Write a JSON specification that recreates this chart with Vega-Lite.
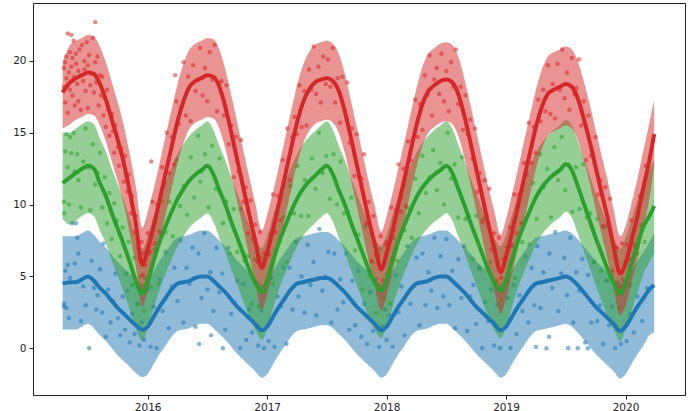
{
"$schema": "https://vega.github.io/schema/vega-lite/v6.json",
"width": 652, "height": 392,
"autosize": {"type": "none"},
"padding": {"left": 33, "top": 3, "right": 8, "bottom": 16},
"background": "white",
"config": {"view": {"stroke": "#222", "strokeWidth": 1}, "axis": {"domain": false, "grid": false, "ticks": true, "tickSize": 4, "tickColor": "#222", "labelFont": "DejaVu Sans", "labelFontSize": 10.5, "labelColor": "#222", "labelPadding": 3}},
"datasets": {
"lines": [
{"t":2015.288,"r":17.8,"rl":15.3,"rh":19.9,"g":11.5,"gl":9.0,"gh":15.0,"b":4.5,"bl":1.3,"bh":7.8},
{"t":2015.35,"r":18.5,"rl":15.6,"rh":21.1,"g":11.9,"gl":8.6,"gh":15.0,"b":4.6,"bl":1.3,"bh":7.8},
{"t":2015.40,"r":18.8,"rl":15.9,"rh":21.4,"g":12.2,"gl":8.9,"gh":15.3,"b":4.6,"bl":1.3,"bh":7.8},
{"t":2015.45,"r":19.0,"rl":16.1,"rh":21.6,"g":12.5,"gl":9.2,"gh":15.6,"b":4.8,"bl":1.5,"bh":8.0},
{"t":2015.50,"r":19.2,"rl":16.3,"rh":21.8,"g":12.7,"gl":9.4,"gh":15.8,"b":5.0,"bl":1.7,"bh":8.2},
{"t":2015.55,"r":19.1,"rl":16.2,"rh":21.7,"g":12.5,"gl":9.2,"gh":15.6,"b":4.7,"bl":1.4,"bh":7.9},
{"t":2015.60,"r":18.4,"rl":15.5,"rh":21.0,"g":11.5,"gl":8.2,"gh":14.6,"b":4.2,"bl":0.9,"bh":7.4},
{"t":2015.65,"r":17.3,"rl":14.4,"rh":19.9,"g":10.6,"gl":7.3,"gh":13.7,"b":3.8,"bl":0.5,"bh":7.0},
{"t":2015.70,"r":15.9,"rl":13.0,"rh":18.5,"g":9.4,"gl":6.1,"gh":12.5,"b":3.3,"bl":0.0,"bh":6.5},
{"t":2015.75,"r":14.5,"rl":11.6,"rh":17.1,"g":8.3,"gl":5.0,"gh":11.4,"b":2.8,"bl":-0.5,"bh":6.0},
{"t":2015.80,"r":12.9,"rl":10.0,"rh":15.5,"g":7.2,"gl":3.9,"gh":10.3,"b":2.4,"bl":-0.9,"bh":5.6},
{"t":2015.85,"r":10.9,"rl":8.0,"rh":13.5,"g":6.0,"gl":2.7,"gh":9.1,"b":2.0,"bl":-1.3,"bh":5.2},
{"t":2015.90,"r":8.7,"rl":5.8,"rh":11.3,"g":4.7,"gl":1.4,"gh":7.8,"b":1.6,"bl":-1.7,"bh":4.8},
{"t":2015.955,"r":5.8,"rl":2.9,"rh":8.4,"g":3.8,"gl":0.5,"gh":6.9,"b":1.3,"bl":-2.0,"bh":4.5},
{"t":2016.00,"r":6.9,"rl":4.0,"rh":9.5,"g":4.7,"gl":1.4,"gh":7.8,"b":1.5,"bl":-1.8,"bh":4.7},
{"t":2016.05,"r":8.5,"rl":5.6,"rh":11.1,"g":6.1,"gl":2.8,"gh":9.2,"b":2.2,"bl":-1.1,"bh":5.4},
{"t":2016.10,"r":10.3,"rl":7.4,"rh":12.9,"g":7.4,"gl":4.1,"gh":10.5,"b":2.9,"bl":-0.4,"bh":6.1},
{"t":2016.15,"r":12.2,"rl":9.3,"rh":14.8,"g":8.5,"gl":5.2,"gh":11.6,"b":3.5,"bl":0.2,"bh":6.7},
{"t":2016.20,"r":14.0,"rl":11.1,"rh":16.6,"g":9.5,"gl":6.2,"gh":12.6,"b":4.1,"bl":0.8,"bh":7.3},
{"t":2016.25,"r":15.8,"rl":12.9,"rh":18.4,"g":10.4,"gl":7.1,"gh":13.5,"b":4.5,"bl":1.2,"bh":7.7},
{"t":2016.30,"r":17.2,"rl":14.3,"rh":19.8,"g":11.1,"gl":7.8,"gh":14.2,"b":4.6,"bl":1.3,"bh":7.8},
{"t":2016.35,"r":18.2,"rl":15.3,"rh":20.8,"g":11.7,"gl":8.4,"gh":14.8,"b":4.7,"bl":1.4,"bh":7.9},
{"t":2016.40,"r":18.6,"rl":15.7,"rh":21.2,"g":12.1,"gl":8.8,"gh":15.2,"b":4.9,"bl":1.6,"bh":8.1},
{"t":2016.45,"r":18.8,"rl":15.9,"rh":21.4,"g":12.4,"gl":9.1,"gh":15.5,"b":5.0,"bl":1.7,"bh":8.2},
{"t":2016.50,"r":19.0,"rl":16.1,"rh":21.6,"g":12.7,"gl":9.4,"gh":15.8,"b":5.0,"bl":1.7,"bh":8.2},
{"t":2016.55,"r":18.9,"rl":16.0,"rh":21.5,"g":12.1,"gl":8.8,"gh":15.2,"b":4.7,"bl":1.4,"bh":7.9},
{"t":2016.60,"r":18.2,"rl":15.3,"rh":20.8,"g":11.0,"gl":7.7,"gh":14.1,"b":4.3,"bl":1.0,"bh":7.5},
{"t":2016.65,"r":16.8,"rl":13.9,"rh":19.4,"g":10.0,"gl":6.7,"gh":13.1,"b":3.9,"bl":0.6,"bh":7.1},
{"t":2016.70,"r":15.0,"rl":12.1,"rh":17.6,"g":8.8,"gl":5.5,"gh":11.9,"b":3.4,"bl":0.1,"bh":6.6},
{"t":2016.75,"r":13.1,"rl":10.2,"rh":15.7,"g":7.7,"gl":4.4,"gh":10.8,"b":2.9,"bl":-0.4,"bh":6.1},
{"t":2016.80,"r":11.2,"rl":8.3,"rh":13.8,"g":6.6,"gl":3.3,"gh":9.7,"b":2.5,"bl":-0.8,"bh":5.7},
{"t":2016.85,"r":9.3,"rl":6.4,"rh":11.9,"g":5.5,"gl":2.2,"gh":8.6,"b":2.1,"bl":-1.2,"bh":5.3},
{"t":2016.90,"r":7.5,"rl":4.6,"rh":10.1,"g":4.6,"gl":1.3,"gh":7.7,"b":1.7,"bl":-1.6,"bh":4.9},
{"t":2016.955,"r":5.6,"rl":2.7,"rh":8.2,"g":3.9,"gl":0.6,"gh":7.0,"b":1.25,"bl":-2.05,"bh":4.45},
{"t":2017.00,"r":6.7,"rl":3.8,"rh":9.3,"g":4.7,"gl":1.4,"gh":7.8,"b":1.5,"bl":-1.8,"bh":4.7},
{"t":2017.05,"r":8.3,"rl":5.4,"rh":10.9,"g":6.1,"gl":2.8,"gh":9.2,"b":2.2,"bl":-1.1,"bh":5.4},
{"t":2017.10,"r":10.1,"rl":7.2,"rh":12.7,"g":7.4,"gl":4.1,"gh":10.5,"b":2.9,"bl":-0.4,"bh":6.1},
{"t":2017.15,"r":12.0,"rl":9.1,"rh":14.6,"g":8.5,"gl":5.2,"gh":11.6,"b":3.5,"bl":0.2,"bh":6.7},
{"t":2017.20,"r":13.9,"rl":11.0,"rh":16.5,"g":9.5,"gl":6.2,"gh":12.6,"b":4.1,"bl":0.8,"bh":7.3},
{"t":2017.25,"r":15.7,"rl":12.8,"rh":18.3,"g":10.4,"gl":7.1,"gh":13.5,"b":4.5,"bl":1.2,"bh":7.7},
{"t":2017.30,"r":17.1,"rl":14.2,"rh":19.7,"g":11.1,"gl":7.8,"gh":14.2,"b":4.6,"bl":1.3,"bh":7.8},
{"t":2017.35,"r":18.0,"rl":15.1,"rh":20.6,"g":11.6,"gl":8.3,"gh":14.7,"b":4.7,"bl":1.4,"bh":7.9},
{"t":2017.40,"r":18.5,"rl":15.6,"rh":21.1,"g":12.0,"gl":8.7,"gh":15.1,"b":4.8,"bl":1.5,"bh":8.0},
{"t":2017.45,"r":18.7,"rl":15.8,"rh":21.3,"g":12.4,"gl":9.1,"gh":15.5,"b":4.9,"bl":1.6,"bh":8.1},
{"t":2017.50,"r":18.8,"rl":15.9,"rh":21.4,"g":12.7,"gl":9.4,"gh":15.8,"b":4.9,"bl":1.6,"bh":8.1},
{"t":2017.55,"r":18.6,"rl":15.7,"rh":21.2,"g":12.1,"gl":8.8,"gh":15.2,"b":4.7,"bl":1.4,"bh":7.9},
{"t":2017.60,"r":17.9,"rl":15.0,"rh":20.5,"g":11.0,"gl":7.7,"gh":14.1,"b":4.3,"bl":1.0,"bh":7.5},
{"t":2017.65,"r":16.5,"rl":13.6,"rh":19.1,"g":10.0,"gl":6.7,"gh":13.1,"b":3.9,"bl":0.6,"bh":7.1},
{"t":2017.70,"r":14.7,"rl":11.8,"rh":17.3,"g":8.8,"gl":5.5,"gh":11.9,"b":3.4,"bl":0.1,"bh":6.6},
{"t":2017.75,"r":12.8,"rl":9.9,"rh":15.4,"g":7.7,"gl":4.4,"gh":10.8,"b":2.9,"bl":-0.4,"bh":6.1},
{"t":2017.80,"r":10.9,"rl":8.0,"rh":13.5,"g":6.6,"gl":3.3,"gh":9.7,"b":2.5,"bl":-0.8,"bh":5.7},
{"t":2017.85,"r":9.0,"rl":6.1,"rh":11.6,"g":5.5,"gl":2.2,"gh":8.6,"b":2.1,"bl":-1.2,"bh":5.3},
{"t":2017.90,"r":7.3,"rl":4.4,"rh":9.9,"g":4.6,"gl":1.3,"gh":7.7,"b":1.7,"bl":-1.6,"bh":4.9},
{"t":2017.955,"r":5.5,"rl":2.6,"rh":8.1,"g":4.0,"gl":0.7,"gh":7.1,"b":1.25,"bl":-2.05,"bh":4.45},
{"t":2018.00,"r":6.6,"rl":3.7,"rh":9.2,"g":4.8,"gl":1.5,"gh":7.9,"b":1.5,"bl":-1.8,"bh":4.7},
{"t":2018.05,"r":8.2,"rl":5.3,"rh":10.8,"g":6.2,"gl":2.9,"gh":9.3,"b":2.2,"bl":-1.1,"bh":5.4},
{"t":2018.10,"r":10.0,"rl":7.1,"rh":12.6,"g":7.5,"gl":4.2,"gh":10.6,"b":2.9,"bl":-0.4,"bh":6.1},
{"t":2018.15,"r":11.8,"rl":8.9,"rh":14.4,"g":8.6,"gl":5.3,"gh":11.7,"b":3.5,"bl":0.2,"bh":6.7},
{"t":2018.20,"r":13.7,"rl":10.8,"rh":16.3,"g":9.6,"gl":6.3,"gh":12.7,"b":4.1,"bl":0.8,"bh":7.3},
{"t":2018.25,"r":15.5,"rl":12.6,"rh":18.1,"g":10.5,"gl":7.2,"gh":13.6,"b":4.5,"bl":1.2,"bh":7.7},
{"t":2018.30,"r":17.0,"rl":14.1,"rh":19.6,"g":11.2,"gl":7.9,"gh":14.3,"b":4.6,"bl":1.3,"bh":7.8},
{"t":2018.35,"r":17.9,"rl":15.0,"rh":20.5,"g":11.7,"gl":8.4,"gh":14.8,"b":4.7,"bl":1.4,"bh":7.9},
{"t":2018.40,"r":18.3,"rl":15.4,"rh":20.9,"g":12.1,"gl":8.8,"gh":15.2,"b":4.9,"bl":1.6,"bh":8.1},
{"t":2018.45,"r":18.6,"rl":15.7,"rh":21.2,"g":12.4,"gl":9.1,"gh":15.5,"b":5.0,"bl":1.7,"bh":8.2},
{"t":2018.50,"r":18.7,"rl":15.8,"rh":21.3,"g":12.7,"gl":9.4,"gh":15.8,"b":5.0,"bl":1.7,"bh":8.2},
{"t":2018.55,"r":18.5,"rl":15.6,"rh":21.1,"g":12.2,"gl":8.9,"gh":15.3,"b":4.7,"bl":1.4,"bh":7.9},
{"t":2018.60,"r":17.7,"rl":14.8,"rh":20.3,"g":11.1,"gl":7.8,"gh":14.2,"b":4.3,"bl":1.0,"bh":7.5},
{"t":2018.65,"r":16.2,"rl":13.3,"rh":18.8,"g":10.0,"gl":6.7,"gh":13.1,"b":3.9,"bl":0.6,"bh":7.1},
{"t":2018.70,"r":14.4,"rl":11.5,"rh":17.0,"g":8.8,"gl":5.5,"gh":11.9,"b":3.4,"bl":0.1,"bh":6.6},
{"t":2018.75,"r":12.5,"rl":9.6,"rh":15.1,"g":7.7,"gl":4.4,"gh":10.8,"b":2.9,"bl":-0.4,"bh":6.1},
{"t":2018.80,"r":10.6,"rl":7.7,"rh":13.2,"g":6.6,"gl":3.3,"gh":9.7,"b":2.5,"bl":-0.8,"bh":5.7},
{"t":2018.85,"r":8.7,"rl":5.8,"rh":11.3,"g":5.5,"gl":2.2,"gh":8.6,"b":2.1,"bl":-1.2,"bh":5.3},
{"t":2018.90,"r":7.0,"rl":4.1,"rh":9.6,"g":4.6,"gl":1.3,"gh":7.7,"b":1.7,"bl":-1.6,"bh":4.9},
{"t":2018.955,"r":5.3,"rl":2.4,"rh":7.9,"g":4.0,"gl":0.7,"gh":7.1,"b":1.25,"bl":-2.05,"bh":4.45},
{"t":2019.00,"r":6.4,"rl":3.5,"rh":9.0,"g":4.8,"gl":1.5,"gh":7.9,"b":1.5,"bl":-1.8,"bh":4.7},
{"t":2019.05,"r":8.1,"rl":5.2,"rh":10.7,"g":6.2,"gl":2.9,"gh":9.3,"b":2.2,"bl":-1.1,"bh":5.4},
{"t":2019.10,"r":9.9,"rl":7.0,"rh":12.5,"g":7.5,"gl":4.2,"gh":10.6,"b":2.9,"bl":-0.4,"bh":6.1},
{"t":2019.15,"r":11.8,"rl":8.9,"rh":14.4,"g":8.6,"gl":5.3,"gh":11.7,"b":3.5,"bl":0.2,"bh":6.7},
{"t":2019.20,"r":13.6,"rl":10.7,"rh":16.2,"g":9.6,"gl":6.3,"gh":12.7,"b":4.1,"bl":0.8,"bh":7.3},
{"t":2019.25,"r":15.4,"rl":12.5,"rh":18.0,"g":10.5,"gl":7.2,"gh":13.6,"b":4.5,"bl":1.2,"bh":7.7},
{"t":2019.30,"r":16.8,"rl":13.9,"rh":19.4,"g":11.2,"gl":7.9,"gh":14.3,"b":4.6,"bl":1.3,"bh":7.8},
{"t":2019.35,"r":17.7,"rl":14.8,"rh":20.3,"g":11.7,"gl":8.4,"gh":14.8,"b":4.7,"bl":1.4,"bh":7.9},
{"t":2019.40,"r":18.0,"rl":15.1,"rh":20.6,"g":12.1,"gl":8.8,"gh":15.2,"b":4.8,"bl":1.5,"bh":8.0},
{"t":2019.45,"r":18.2,"rl":15.3,"rh":20.8,"g":12.4,"gl":9.1,"gh":15.5,"b":4.9,"bl":1.6,"bh":8.1},
{"t":2019.50,"r":18.4,"rl":15.5,"rh":21.0,"g":12.8,"gl":9.5,"gh":15.9,"b":5.0,"bl":1.7,"bh":8.2},
{"t":2019.55,"r":18.2,"rl":15.3,"rh":20.8,"g":12.4,"gl":9.1,"gh":15.5,"b":4.8,"bl":1.5,"bh":8.0},
{"t":2019.60,"r":17.4,"rl":14.5,"rh":20.0,"g":11.3,"gl":8.0,"gh":14.4,"b":4.4,"bl":1.1,"bh":7.6},
{"t":2019.65,"r":16.0,"rl":13.1,"rh":18.6,"g":10.1,"gl":6.8,"gh":13.2,"b":3.9,"bl":0.6,"bh":7.1},
{"t":2019.70,"r":14.4,"rl":11.5,"rh":17.0,"g":8.9,"gl":5.6,"gh":12.0,"b":3.4,"bl":0.1,"bh":6.6},
{"t":2019.75,"r":12.6,"rl":9.7,"rh":15.2,"g":7.7,"gl":4.4,"gh":10.8,"b":2.9,"bl":-0.4,"bh":6.1},
{"t":2019.80,"r":10.8,"rl":7.9,"rh":13.4,"g":6.6,"gl":3.3,"gh":9.7,"b":2.5,"bl":-0.8,"bh":5.7},
{"t":2019.85,"r":9.1,"rl":6.2,"rh":11.7,"g":5.5,"gl":2.2,"gh":8.6,"b":2.1,"bl":-1.2,"bh":5.3},
{"t":2019.90,"r":7.1,"rl":4.2,"rh":9.7,"g":4.6,"gl":1.3,"gh":7.7,"b":1.7,"bl":-1.6,"bh":4.9},
{"t":2019.955,"r":5.2,"rl":2.3,"rh":7.8,"g":3.8,"gl":0.5,"gh":6.9,"b":1.2,"bl":-2.1,"bh":4.4},
{"t":2020.00,"r":5.9,"rl":3.0,"rh":8.5,"g":4.6,"gl":1.3,"gh":7.7,"b":1.5,"bl":-1.8,"bh":4.7},
{"t":2020.05,"r":7.5,"rl":4.6,"rh":10.1,"g":5.9,"gl":2.6,"gh":9.0,"b":2.2,"bl":-1.1,"bh":5.4},
{"t":2020.10,"r":9.2,"rl":6.3,"rh":11.8,"g":7.2,"gl":3.9,"gh":10.3,"b":2.9,"bl":-0.4,"bh":6.1},
{"t":2020.15,"r":11.2,"rl":8.3,"rh":13.8,"g":8.5,"gl":5.2,"gh":11.6,"b":3.5,"bl":0.2,"bh":6.7},
{"t":2020.20,"r":13.1,"rl":10.4,"rh":15.7,"g":9.2,"gl":6.0,"gh":12.4,"b":4.1,"bl":0.9,"bh":7.4},
{"t":2020.24,"r":14.9,"rl":12.6,"rh":17.3,"g":9.9,"gl":6.6,"gh":13.1,"b":4.4,"bl":1.1,"bh":8.0}
],
"red": [
{"t":2015.30,"v":19.5},{"t":2015.30,"v":18.2},{"t":2015.31,"v":19.9},{"t":2015.31,"v":17.1},{"t":2015.32,"v":20.3},{"t":2015.32,"v":18.8},{"t":2015.33,"v":21.9},{"t":2015.33,"v":16.4},{"t":2015.34,"v":19.2},{"t":2015.35,"v":20.6},{"t":2015.35,"v":18.0},{"t":2015.36,"v":21.8},{"t":2015.36,"v":19.6},{"t":2015.37,"v":17.6},{"t":2015.37,"v":20.2},{"t":2015.38,"v":18.9},{"t":2015.38,"v":21.4},{"t":2015.39,"v":16.9},{"t":2015.40,"v":19.8},{"t":2015.40,"v":20.5},{"t":2015.41,"v":18.4},{"t":2015.42,"v":19.3},{"t":2015.42,"v":17.2},{"t":2015.43,"v":20.8},{"t":2015.44,"v":19.0},{"t":2015.44,"v":16.6},{"t":2015.45,"v":21.1},{"t":2015.46,"v":18.6},{"t":2015.47,"v":20.0},{"t":2015.47,"v":19.4},{"t":2015.48,"v":17.9},{"t":2015.49,"v":21.3},{"t":2015.50,"v":19.7},{"t":2015.50,"v":16.7},{"t":2015.51,"v":20.4},{"t":2015.52,"v":18.3},{"t":2015.53,"v":19.1},{"t":2015.54,"v":21.6},{"t":2015.55,"v":17.8},{"t":2015.56,"v":22.7},{"t":2015.56,"v":19.9},{"t":2015.57,"v":18.5},{"t":2015.58,"v":20.3},{"t":2015.59,"v":16.9},{"t":2015.60,"v":19.0},{"t":2015.61,"v":17.6},{"t":2015.62,"v":18.9},{"t":2015.63,"v":16.2},{"t":2015.64,"v":17.4},{"t":2015.65,"v":15.4},{"t":2015.66,"v":18.0},{"t":2015.67,"v":16.6},{"t":2015.68,"v":14.8},{"t":2015.70,"v":16.3},{"t":2015.71,"v":15.1},{"t":2015.72,"v":13.6},{"t":2015.73,"v":15.5},{"t":2015.75,"v":14.0},{"t":2015.76,"v":12.7},{"t":2015.78,"v":13.9},{"t":2015.80,"v":11.6},{"t":2015.81,"v":13.4},{"t":2015.83,"v":10.9},{"t":2015.84,"v":12.1},{"t":2015.86,"v":9.4},{"t":2015.87,"v":10.6},{"t":2015.89,"v":8.1},{"t":2015.90,"v":9.2},{"t":2015.92,"v":7.0},{"t":2015.93,"v":6.2},{"t":2015.95,"v":7.4},{"t":2015.96,"v":5.1},{"t":2015.97,"v":6.6},{"t":2015.98,"v":5.8},
{"t":2016.00,"v":8.0},{"t":2016.02,"v":6.7},{"t":2016.03,"v":13.0},{"t":2016.04,"v":10.2},{"t":2016.06,"v":7.3},{"t":2016.08,"v":10.0},{"t":2016.10,"v":8.1},{"t":2016.12,"v":12.6},{"t":2016.14,"v":11.5},{"t":2016.16,"v":15.0},{"t":2016.18,"v":12.2},{"t":2016.20,"v":14.7},{"t":2016.22,"v":12.8},{"t":2016.23,"v":19.0},{"t":2016.24,"v":17.2},{"t":2016.26,"v":15.6},{"t":2016.28,"v":16.8},{"t":2016.30,"v":19.9},{"t":2016.32,"v":16.2},{"t":2016.34,"v":18.9},{"t":2016.36,"v":15.8},{"t":2016.38,"v":19.7},{"t":2016.40,"v":17.9},{"t":2016.42,"v":18.7},{"t":2016.44,"v":20.9},{"t":2016.46,"v":17.6},{"t":2016.48,"v":19.5},{"t":2016.50,"v":17.2},{"t":2016.52,"v":20.6},{"t":2016.54,"v":18.7},{"t":2016.56,"v":21.1},{"t":2016.58,"v":16.5},{"t":2016.60,"v":18.5},{"t":2016.62,"v":18.6},{"t":2016.64,"v":16.2},{"t":2016.66,"v":18.3},{"t":2016.68,"v":14.2},{"t":2016.70,"v":15.5},{"t":2016.72,"v":11.9},{"t":2016.74,"v":14.7},{"t":2016.76,"v":12.3},{"t":2016.78,"v":14.5},{"t":2016.80,"v":10.2},{"t":2016.82,"v":11.2},{"t":2016.84,"v":8.0},{"t":2016.86,"v":10.3},{"t":2016.88,"v":7.6},{"t":2016.90,"v":8.6},{"t":2016.92,"v":6.0},{"t":2016.94,"v":8.1},{"t":2016.96,"v":4.0},{"t":2016.98,"v":6.6},
{"t":2017.01,"v":6.5},{"t":2017.03,"v":7.9},{"t":2017.05,"v":10.7},{"t":2017.07,"v":8.1},{"t":2017.09,"v":10.6},{"t":2017.11,"v":8.9},{"t":2017.13,"v":13.1},{"t":2017.15,"v":12.0},{"t":2017.17,"v":15.3},{"t":2017.19,"v":11.7},{"t":2017.21,"v":14.7},{"t":2017.23,"v":16.1},{"t":2017.25,"v":14.9},{"t":2017.27,"v":18.3},{"t":2017.29,"v":15.4},{"t":2017.31,"v":17.9},{"t":2017.33,"v":15.5},{"t":2017.35,"v":19.4},{"t":2017.37,"v":18.0},{"t":2017.39,"v":21.0},{"t":2017.41,"v":17.7},{"t":2017.43,"v":19.6},{"t":2017.45,"v":17.1},{"t":2017.47,"v":20.3},{"t":2017.49,"v":18.4},{"t":2017.51,"v":20.1},{"t":2017.53,"v":18.2},{"t":2017.55,"v":20.9},{"t":2017.57,"v":17.1},{"t":2017.59,"v":18.8},{"t":2017.61,"v":15.7},{"t":2017.63,"v":18.9},{"t":2017.65,"v":16.5},{"t":2017.67,"v":18.5},{"t":2017.69,"v":14.3},{"t":2017.71,"v":15.3},{"t":2017.73,"v":12.0},{"t":2017.75,"v":14.9},{"t":2017.77,"v":11.9},{"t":2017.79,"v":11.8},{"t":2017.81,"v":13.5},{"t":2017.83,"v":8.7},{"t":2017.85,"v":10.2},{"t":2017.87,"v":6.1},{"t":2017.89,"v":9.2},{"t":2017.91,"v":6.5},{"t":2017.93,"v":6.5},{"t":2017.95,"v":7.8},{"t":2017.97,"v":4.7},{"t":2017.99,"v":7.2},
{"t":2018.00,"v":7.4},{"t":2018.02,"v":5.4},{"t":2018.04,"v":9.8},{"t":2018.06,"v":8.2},{"t":2018.08,"v":9.6},{"t":2018.10,"v":12.8},{"t":2018.12,"v":9.5},{"t":2018.14,"v":12.5},{"t":2018.16,"v":9.9},{"t":2018.18,"v":14.4},{"t":2018.20,"v":13.1},{"t":2018.22,"v":14.5},{"t":2018.24,"v":17.3},{"t":2018.26,"v":14.7},{"t":2018.28,"v":17.0},{"t":2018.30,"v":15.2},{"t":2018.32,"v":19.0},{"t":2018.34,"v":17.6},{"t":2018.36,"v":20.4},{"t":2018.38,"v":16.2},{"t":2018.40,"v":18.7},{"t":2018.42,"v":19.5},{"t":2018.44,"v":17.7},{"t":2018.46,"v":20.5},{"t":2018.48,"v":17.2},{"t":2018.50,"v":19.3},{"t":2018.52,"v":16.5},{"t":2018.54,"v":19.9},{"t":2018.56,"v":18.2},{"t":2018.58,"v":20.8},{"t":2018.60,"v":17.0},{"t":2018.62,"v":18.2},{"t":2018.64,"v":15.2},{"t":2018.66,"v":17.6},{"t":2018.68,"v":14.9},{"t":2018.70,"v":15.9},{"t":2018.72,"v":13.2},{"t":2018.74,"v":15.3},{"t":2018.76,"v":10.9},{"t":2018.78,"v":12.2},{"t":2018.80,"v":8.8},{"t":2018.82,"v":11.7},{"t":2018.84,"v":9.2},{"t":2018.86,"v":11.1},{"t":2018.88,"v":6.9},{"t":2018.90,"v":8.0},{"t":2018.92,"v":4.7},{"t":2018.94,"v":7.7},{"t":2018.96,"v":4.9},{"t":2018.98,"v":6.2},
{"t":2019.01,"v":7.0},{"t":2019.03,"v":8.4},{"t":2019.05,"v":7.2},{"t":2019.07,"v":10.7},{"t":2019.09,"v":8.0},{"t":2019.11,"v":10.7},{"t":2019.13,"v":8.7},{"t":2019.15,"v":12.9},{"t":2019.17,"v":12.1},{"t":2019.19,"v":15.7},{"t":2019.21,"v":12.9},{"t":2019.23,"v":15.4},{"t":2019.25,"v":13.6},{"t":2019.27,"v":17.3},{"t":2019.29,"v":15.8},{"t":2019.31,"v":18.0},{"t":2019.33,"v":16.5},{"t":2019.35,"v":19.7},{"t":2019.37,"v":16.3},{"t":2019.39,"v":18.4},{"t":2019.41,"v":16.0},{"t":2019.43,"v":19.8},{"t":2019.45,"v":18.0},{"t":2019.47,"v":20.8},{"t":2019.49,"v":17.4},{"t":2019.51,"v":19.2},{"t":2019.53,"v":16.6},{"t":2019.55,"v":20.2},{"t":2019.57,"v":17.7},{"t":2019.59,"v":18.1},{"t":2019.61,"v":20.1},{"t":2019.63,"v":15.5},{"t":2019.65,"v":17.2},{"t":2019.67,"v":13.1},{"t":2019.69,"v":16.2},{"t":2019.71,"v":13.4},{"t":2019.73,"v":13.4},{"t":2019.75,"v":14.7},{"t":2019.77,"v":10.7},{"t":2019.79,"v":11.7},{"t":2019.81,"v":8.5},{"t":2019.83,"v":11.2},{"t":2019.85,"v":8.6},{"t":2019.87,"v":10.4},{"t":2019.89,"v":5.4},{"t":2019.91,"v":7.0},{"t":2019.93,"v":7.0},{"t":2019.95,"v":4.3},{"t":2019.97,"v":7.3},{"t":2019.99,"v":4.6},
{"t":2020.01,"v":7.2},{"t":2020.03,"v":6.2},{"t":2020.05,"v":8.9},{"t":2020.08,"v":7.1},{"t":2020.12,"v":10.6},{"t":2020.17,"v":12.7}
],
"green": [
{"t":2015.30,"v":10.2},{"t":2015.30,"v":9.4},{"t":2015.31,"v":13.7},{"t":2015.32,"v":14.9},{"t":2015.33,"v":12.6},{"t":2015.34,"v":10.0},{"t":2015.35,"v":14.7},{"t":2015.36,"v":13.6},{"t":2015.38,"v":15.0},{"t":2015.39,"v":12.3},{"t":2015.41,"v":13.5},{"t":2015.42,"v":11.7},{"t":2015.44,"v":9.8},{"t":2015.46,"v":13.0},{"t":2015.48,"v":15.3},{"t":2015.50,"v":12.6},{"t":2015.52,"v":9.6},{"t":2015.54,"v":14.2},{"t":2015.56,"v":11.4},{"t":2015.58,"v":12.2},{"t":2015.60,"v":13.6},{"t":2015.62,"v":9.8},{"t":2015.64,"v":11.9},{"t":2015.66,"v":8.7},{"t":2015.68,"v":10.8},{"t":2015.70,"v":7.6},{"t":2015.72,"v":10.1},{"t":2015.74,"v":8.9},{"t":2015.77,"v":6.4},{"t":2015.79,"v":8.4},{"t":2015.82,"v":5.2},{"t":2015.84,"v":7.4},{"t":2015.87,"v":4.4},{"t":2015.89,"v":6.3},{"t":2015.92,"v":3.1},{"t":2015.94,"v":5.0},{"t":2015.97,"v":2.6},{"t":2015.98,"v":4.9},
{"t":2016.00,"v":6.5},{"t":2016.03,"v":4.3},{"t":2016.06,"v":6.9},{"t":2016.09,"v":4.5},{"t":2016.12,"v":10.2},{"t":2016.15,"v":8.1},{"t":2016.18,"v":10.2},{"t":2016.21,"v":7.8},{"t":2016.24,"v":13.1},{"t":2016.27,"v":9.9},{"t":2016.30,"v":11.3},{"t":2016.33,"v":9.3},{"t":2016.36,"v":13.3},{"t":2016.39,"v":10.5},{"t":2016.42,"v":14.8},{"t":2016.44,"v":11.6},{"t":2016.45,"v":12.3},{"t":2016.48,"v":13.5},{"t":2016.51,"v":9.8},{"t":2016.52,"v":12.6},{"t":2016.54,"v":14.1},{"t":2016.57,"v":11.1},{"t":2016.60,"v":13.2},{"t":2016.63,"v":8.7},{"t":2016.66,"v":10.2},{"t":2016.69,"v":6.6},{"t":2016.72,"v":9.7},{"t":2016.75,"v":6.7},{"t":2016.78,"v":9.7},{"t":2016.81,"v":6.1},{"t":2016.84,"v":6.4},{"t":2016.87,"v":3.1},{"t":2016.90,"v":6.2},{"t":2016.93,"v":2.9},{"t":2016.96,"v":6.3},
{"t":2017.015,"v":6.6},{"t":2017.045,"v":4.5},{"t":2017.075,"v":9.4},{"t":2017.105,"v":7.4},{"t":2017.135,"v":9.1},{"t":2017.165,"v":6.0},{"t":2017.195,"v":11.3},{"t":2017.225,"v":9.4},{"t":2017.255,"v":12.7},{"t":2017.285,"v":9.2},{"t":2017.315,"v":11.7},{"t":2017.345,"v":9.2},{"t":2017.375,"v":13.2},{"t":2017.405,"v":11.1},{"t":2017.435,"v":15.0},{"t":2017.465,"v":12.2},{"t":2017.495,"v":13.4},{"t":2017.525,"v":10.4},{"t":2017.555,"v":13.5},{"t":2017.585,"v":10.0},{"t":2017.615,"v":13.0},{"t":2017.645,"v":9.4},{"t":2017.675,"v":9.5},{"t":2017.705,"v":10.5},{"t":2017.735,"v":6.8},{"t":2017.765,"v":7.9},{"t":2017.795,"v":4.1},{"t":2017.825,"v":8.5},{"t":2017.855,"v":5.0},{"t":2017.885,"v":6.0},{"t":2017.915,"v":2.5},{"t":2017.945,"v":6.9},{"t":2017.975,"v":3.5},
{"t":2018.00,"v":5.1},{"t":2018.03,"v":3.1},{"t":2018.06,"v":7.7},{"t":2018.09,"v":6.1},{"t":2018.12,"v":10.5},{"t":2018.15,"v":8.2},{"t":2018.18,"v":9.8},{"t":2018.21,"v":7.7},{"t":2018.24,"v":11.8},{"t":2018.27,"v":9.4},{"t":2018.30,"v":13.4},{"t":2018.33,"v":10.8},{"t":2018.36,"v":11.9},{"t":2018.39,"v":13.8},{"t":2018.42,"v":11.0},{"t":2018.45,"v":12.9},{"t":2018.48,"v":10.0},{"t":2018.51,"v":15.0},{"t":2018.54,"v":11.8},{"t":2018.57,"v":12.8},{"t":2018.60,"v":9.1},{"t":2018.63,"v":13.3},{"t":2018.66,"v":9.0},{"t":2018.69,"v":9.2},{"t":2018.72,"v":6.2},{"t":2018.75,"v":9.2},{"t":2018.78,"v":5.5},{"t":2018.81,"v":9.0},{"t":2018.84,"v":5.6},{"t":2018.87,"v":6.0},{"t":2018.90,"v":1.8},{"t":2018.93,"v":6.1},{"t":2018.96,"v":3.4},
{"t":2019.015,"v":4.7},{"t":2019.045,"v":7.1},{"t":2019.075,"v":4.9},{"t":2019.105,"v":10.4},{"t":2019.135,"v":7.4},{"t":2019.165,"v":9.0},{"t":2019.195,"v":7.2},{"t":2019.225,"v":11.5},{"t":2019.255,"v":9.0},{"t":2019.285,"v":13.5},{"t":2019.315,"v":11.2},{"t":2019.345,"v":12.5},{"t":2019.375,"v":9.1},{"t":2019.405,"v":14.0},{"t":2019.435,"v":11.7},{"t":2019.465,"v":14.7},{"t":2019.495,"v":11.0},{"t":2019.525,"v":12.8},{"t":2019.555,"v":9.5},{"t":2019.585,"v":12.6},{"t":2019.615,"v":9.7},{"t":2019.645,"v":12.8},{"t":2019.675,"v":9.1},{"t":2019.705,"v":9.4},{"t":2019.735,"v":6.0},{"t":2019.765,"v":9.0},{"t":2019.795,"v":5.4},{"t":2019.825,"v":8.4},{"t":2019.855,"v":4.7},{"t":2019.885,"v":5.0},{"t":2019.915,"v":6.2},{"t":2019.945,"v":2.8},{"t":2019.975,"v":4.8},
{"t":2020.01,"v":5.9},{"t":2020.04,"v":4.4},{"t":2020.07,"v":7.3},{"t":2020.10,"v":6.6},{"t":2020.13,"v":8.6},{"t":2020.16,"v":7.4}
],
"blue": [
{"t":2015.30,"v":2.9},{"t":2015.30,"v":3.1},{"t":2015.31,"v":5.4},{"t":2015.32,"v":2.8},{"t":2015.33,"v":5.8},{"t":2015.34,"v":2.1},{"t":2015.35,"v":4.9},{"t":2015.37,"v":8.7},{"t":2015.39,"v":5.9},{"t":2015.40,"v":8.7},{"t":2015.41,"v":7.7},{"t":2015.42,"v":6.6},{"t":2015.44,"v":1.9},{"t":2015.46,"v":4.3},{"t":2015.48,"v":3.0},{"t":2015.51,"v":0.0},{"t":2015.53,"v":6.1},{"t":2015.55,"v":4.2},{"t":2015.57,"v":2.7},{"t":2015.58,"v":3.7},{"t":2015.60,"v":5.5},{"t":2015.62,"v":2.5},{"t":2015.63,"v":7.3},{"t":2015.65,"v":0.8},{"t":2015.67,"v":4.1},{"t":2015.69,"v":1.8},{"t":2015.71,"v":3.3},{"t":2015.73,"v":5.2},{"t":2015.75,"v":2.1},{"t":2015.77,"v":0.9},{"t":2015.79,"v":3.6},{"t":2015.81,"v":1.3},{"t":2015.83,"v":4.0},{"t":2015.85,"v":0.4},{"t":2015.87,"v":2.4},{"t":2015.89,"v":1.0},{"t":2015.91,"v":3.1},{"t":2015.93,"v":0.2},{"t":2015.95,"v":1.8},{"t":2015.97,"v":0.6},
{"t":2016.000,"v":4.1},{"t":2016.025,"v":0.1},{"t":2016.050,"v":2.9},{"t":2016.075,"v":0.0},{"t":2016.100,"v":4.8},{"t":2016.125,"v":2.6},{"t":2016.150,"v":6.7},{"t":2016.175,"v":1.4},{"t":2016.200,"v":4.3},{"t":2016.225,"v":5.6},{"t":2016.250,"v":3.3},{"t":2016.275,"v":7.5},{"t":2016.300,"v":1.8},{"t":2016.325,"v":5.6},{"t":2016.350,"v":4.5},{"t":2016.375,"v":7.0},{"t":2016.400,"v":1.5},{"t":2016.425,"v":6.6},{"t":2016.43,"v":0.3},{"t":2016.450,"v":3.5},{"t":2016.475,"v":8.0},{"t":2016.500,"v":4.1},{"t":2016.525,"v":5.3},{"t":2016.53,"v":0.9},{"t":2016.550,"v":2.6},{"t":2016.575,"v":7.0},{"t":2016.600,"v":3.9},{"t":2016.625,"v":5.2},{"t":2016.63,"v":0.0},{"t":2016.650,"v":1.3},{"t":2016.675,"v":7.0},{"t":2016.700,"v":2.4},{"t":2016.725,"v":3.2},{"t":2016.750,"v":4.7},{"t":2016.775,"v":0.0},{"t":2016.800,"v":4.5},{"t":2016.825,"v":0.6},{"t":2016.850,"v":2.7},{"t":2016.875,"v":1.1},{"t":2016.900,"v":4.5},{"t":2016.925,"v":0.2},{"t":2016.950,"v":2.6},{"t":2016.975,"v":0.0},
{"t":2017.0125,"v":0.5},{"t":2017.0375,"v":4.9},{"t":2017.0625,"v":0.1},{"t":2017.0875,"v":3.6},{"t":2017.1125,"v":2.9},{"t":2017.1375,"v":5.6},{"t":2017.1625,"v":0.3},{"t":2017.1875,"v":5.6},{"t":2017.2125,"v":2.7},{"t":2017.2375,"v":7.4},{"t":2017.2625,"v":3.6},{"t":2017.2875,"v":5.0},{"t":2017.3125,"v":2.5},{"t":2017.3375,"v":7.2},{"t":2017.3625,"v":4.4},{"t":2017.3875,"v":6.0},{"t":2017.4125,"v":2.3},{"t":2017.4375,"v":8.3},{"t":2017.4625,"v":4.0},{"t":2017.4875,"v":5.0},{"t":2017.5125,"v":6.7},{"t":2017.5375,"v":1.8},{"t":2017.5625,"v":6.6},{"t":2017.5875,"v":2.7},{"t":2017.6125,"v":4.8},{"t":2017.6375,"v":3.2},{"t":2017.6625,"v":6.6},{"t":2017.6875,"v":1.3},{"t":2017.7125,"v":4.7},{"t":2017.7375,"v":1.6},{"t":2017.7625,"v":5.4},{"t":2017.7875,"v":0.8},{"t":2017.8125,"v":3.1},{"t":2017.8375,"v":0.3},{"t":2017.8625,"v":3.9},{"t":2017.8875,"v":1.2},{"t":2017.9125,"v":4.8},{"t":2017.9375,"v":0.1},{"t":2017.9625,"v":1.5},{"t":2017.9875,"v":2.7},
{"t":2018.000,"v":0.6},{"t":2018.025,"v":2.3},{"t":2018.050,"v":0.1},{"t":2018.075,"v":5.1},{"t":2018.100,"v":2.5},{"t":2018.125,"v":4.3},{"t":2018.150,"v":0.9},{"t":2018.175,"v":7.1},{"t":2018.200,"v":3.1},{"t":2018.225,"v":4.3},{"t":2018.250,"v":6.3},{"t":2018.275,"v":1.6},{"t":2018.300,"v":6.6},{"t":2018.325,"v":3.0},{"t":2018.350,"v":5.3},{"t":2018.375,"v":4.0},{"t":2018.400,"v":7.7},{"t":2018.425,"v":2.8},{"t":2018.450,"v":6.4},{"t":2018.475,"v":3.6},{"t":2018.500,"v":7.6},{"t":2018.525,"v":3.0},{"t":2018.550,"v":5.4},{"t":2018.575,"v":1.4},{"t":2018.600,"v":6.2},{"t":2018.625,"v":3.5},{"t":2018.650,"v":7.1},{"t":2018.675,"v":1.2},{"t":2018.700,"v":3.6},{"t":2018.725,"v":4.4},{"t":2018.750,"v":1.7},{"t":2018.775,"v":5.6},{"t":2018.800,"v":0.0},{"t":2018.825,"v":3.2},{"t":2018.850,"v":1.9},{"t":2018.875,"v":4.1},{"t":2018.900,"v":0.2},{"t":2018.925,"v":3.0},{"t":2018.950,"v":0.0},{"t":2018.975,"v":4.3},
{"t":2019.0125,"v":3.5},{"t":2019.0375,"v":0.0},{"t":2019.0625,"v":4.4},{"t":2019.0875,"v":1.0},{"t":2019.1125,"v":3.7},{"t":2019.1375,"v":2.6},{"t":2019.1625,"v":6.4},{"t":2019.1875,"v":1.8},{"t":2019.2125,"v":5.6},{"t":2019.2375,"v":3.0},{"t":2019.25,"v":0.1},{"t":2019.2625,"v":7.1},{"t":2019.2875,"v":2.8},{"t":2019.3125,"v":5.3},{"t":2019.3375,"v":0.0},{"t":2019.36,"v":0.8},{"t":2019.3625,"v":6.6},{"t":2019.3875,"v":4.2},{"t":2019.4125,"v":8.1},{"t":2019.4375,"v":2.6},{"t":2019.4625,"v":5.2},{"t":2019.4875,"v":6.3},{"t":2019.5125,"v":3.7},{"t":2019.52,"v":0.0},{"t":2019.5375,"v":7.7},{"t":2019.5625,"v":1.8},{"t":2019.5875,"v":5.3},{"t":2019.60,"v":0.0},{"t":2019.6125,"v":4.0},{"t":2019.6375,"v":6.2},{"t":2019.6625,"v":0.4},{"t":2019.685,"v":0.0},{"t":2019.6875,"v":5.1},{"t":2019.7125,"v":1.8},{"t":2019.7375,"v":6.0},{"t":2019.7625,"v":1.9},{"t":2019.7875,"v":3.0},{"t":2019.8125,"v":0.3},{"t":2019.8375,"v":4.7},{"t":2019.8625,"v":1.6},{"t":2019.8875,"v":2.9},{"t":2019.9125,"v":0.0},{"t":2019.9375,"v":4.6},{"t":2019.9625,"v":0.3},{"t":2019.9875,"v":1.4},
{"t":2020.01,"v":0.5},{"t":2020.04,"v":2.4},{"t":2020.07,"v":1.1},{"t":2020.10,"v":3.6},{"t":2020.14,"v":1.9},{"t":2020.18,"v":4.2}
]
},
"encoding": {"x": {"field": "t", "type": "quantitative", "title": null, "scale": {"domain": [2015.04, 2020.498], "nice": false, "zero": false}, "axis": {"values": [2016, 2017, 2018, 2019, 2020], "format": "d"}}},
"layer": [
{"data": {"name": "lines"}, "mark": {"type": "area", "color": "#1f77b4", "opacity": 0.5, "interpolate": "monotone"}, "encoding": {"y": {"field": "bl", "type": "quantitative", "title": null, "scale": {"domain": [-3.25, 24.03], "nice": false, "zero": false}, "axis": {"values": [0, 5, 10, 15, 20]}}, "y2": {"field": "bh"}}},
{"data": {"name": "blue"}, "mark": {"type": "circle", "color": "#1f77b4", "opacity": 0.55, "size": 20}, "encoding": {"y": {"field": "v", "type": "quantitative", "title": null}}},
{"data": {"name": "lines"}, "mark": {"type": "area", "color": "#2ca02c", "opacity": 0.5, "interpolate": "monotone"}, "encoding": {"y": {"field": "gl", "type": "quantitative", "title": null}, "y2": {"field": "gh"}}},
{"data": {"name": "green"}, "mark": {"type": "circle", "color": "#2ca02c", "opacity": 0.55, "size": 20}, "encoding": {"y": {"field": "v", "type": "quantitative", "title": null}}},
{"data": {"name": "lines"}, "mark": {"type": "area", "color": "#d62728", "opacity": 0.5, "interpolate": "monotone"}, "encoding": {"y": {"field": "rl", "type": "quantitative", "title": null}, "y2": {"field": "rh"}}},
{"data": {"name": "red"}, "mark": {"type": "circle", "color": "#d62728", "opacity": 0.55, "size": 20}, "encoding": {"y": {"field": "v", "type": "quantitative", "title": null}}},
{"data": {"name": "lines"}, "mark": {"type": "line", "color": "#1f77b4", "strokeWidth": 4, "interpolate": "monotone"}, "encoding": {"y": {"field": "b", "type": "quantitative", "title": null}}},
{"data": {"name": "lines"}, "mark": {"type": "line", "color": "#2ca02c", "strokeWidth": 4, "interpolate": "monotone"}, "encoding": {"y": {"field": "g", "type": "quantitative", "title": null}}},
{"data": {"name": "lines"}, "mark": {"type": "line", "color": "#d62728", "strokeWidth": 4, "interpolate": "monotone"}, "encoding": {"y": {"field": "r", "type": "quantitative", "title": null}}}
]
}
